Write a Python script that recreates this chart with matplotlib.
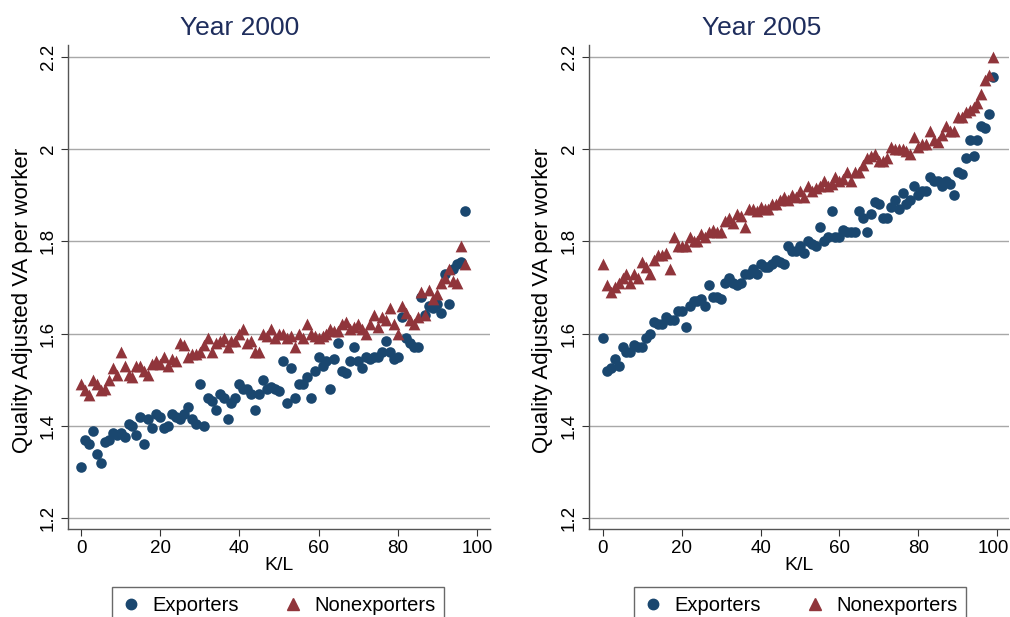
import matplotlib.pyplot as plt
from matplotlib.lines import Line2D
from matplotlib.transforms import ScaledTranslation

# K/L percentile positions
kl_2000 = list(range(98))
kl_2005 = list(range(100))

exp_2000 = [1.31, 1.37, 1.36, 1.39, 1.34, 1.32, 1.365, 1.37, 1.385, 1.38,
            1.385, 1.375, 1.405, 1.40, 1.38, 1.42, 1.36, 1.415, 1.395, 1.425,
            1.42, 1.395, 1.40, 1.425, 1.42, 1.415, 1.425, 1.44, 1.415, 1.405,
            1.49, 1.40, 1.46, 1.455, 1.435, 1.47, 1.46, 1.415, 1.45, 1.46,
            1.49, 1.48, 1.48, 1.47, 1.435, 1.47, 1.50, 1.48, 1.485, 1.48,
            1.475, 1.54, 1.45, 1.525, 1.46, 1.49, 1.49, 1.505, 1.46, 1.52,
            1.55, 1.53, 1.54, 1.48, 1.545, 1.58, 1.52, 1.515, 1.54, 1.57,
            1.54, 1.525, 1.55, 1.545, 1.55, 1.55, 1.56, 1.585, 1.56, 1.545,
            1.55, 1.635, 1.59, 1.58, 1.57, 1.57, 1.68, 1.64, 1.66, 1.655,
            1.665, 1.645, 1.73, 1.665, 1.74, 1.75, 1.755, 1.866]

nonexp_2000 = [1.49, 1.478, 1.467, 1.50, 1.49, 1.478, 1.48, 1.50, 1.525, 1.51,
               1.56, 1.53, 1.51, 1.505, 1.53, 1.53, 1.52, 1.51, 1.535, 1.54,
               1.535, 1.55, 1.53, 1.545, 1.54, 1.58, 1.575, 1.55, 1.555, 1.555,
               1.56, 1.575, 1.59, 1.56, 1.58, 1.585, 1.59, 1.57, 1.585, 1.585,
               1.60, 1.61, 1.58, 1.585, 1.56, 1.56, 1.60, 1.595, 1.61, 1.59,
               1.60, 1.60, 1.59, 1.595, 1.57, 1.60, 1.59, 1.62, 1.60, 1.595,
               1.59, 1.595, 1.60, 1.61, 1.605, 1.605, 1.62, 1.625, 1.61, 1.615,
               1.62, 1.61, 1.60, 1.62, 1.64, 1.615, 1.635, 1.63, 1.655, 1.62,
               1.60, 1.66, 1.645, 1.63, 1.62, 1.635, 1.69, 1.64, 1.695, 1.675,
               1.685, 1.71, 1.72, 1.74, 1.715, 1.71, 1.79, 1.75]

exp_2005 = [1.59, 1.52, 1.525, 1.545, 1.53, 1.57, 1.56, 1.56, 1.575, 1.57,
            1.57, 1.59, 1.60, 1.625, 1.62, 1.62, 1.635, 1.63, 1.63, 1.65,
            1.65, 1.615, 1.66, 1.67, 1.67, 1.675, 1.66, 1.705, 1.68, 1.68,
            1.675, 1.71, 1.72, 1.71, 1.705, 1.71, 1.73, 1.73, 1.74, 1.73,
            1.75, 1.745, 1.745, 1.75, 1.76, 1.755, 1.75, 1.79, 1.78, 1.78,
            1.79, 1.775, 1.80, 1.795, 1.79, 1.83, 1.80, 1.81, 1.865, 1.81,
            1.81, 1.825, 1.82, 1.82, 1.82, 1.865, 1.85, 1.82, 1.86, 1.885,
            1.88, 1.85, 1.85, 1.875, 1.89, 1.87, 1.905, 1.88, 1.89, 1.92,
            1.90, 1.91, 1.91, 1.94, 1.93, 1.93, 1.92, 1.93, 1.925, 1.90,
            1.95, 1.945, 1.98, 2.02, 1.985, 2.02, 2.05, 2.045, 2.075, 2.155]

nonexp_2005 = [1.75, 1.705, 1.69, 1.70, 1.71, 1.72, 1.73, 1.71, 1.73, 1.72,
               1.755, 1.745, 1.73, 1.76, 1.77, 1.77, 1.775, 1.74, 1.81, 1.79,
               1.79, 1.79, 1.81, 1.80, 1.80, 1.815, 1.81, 1.82, 1.825, 1.82,
               1.82, 1.845, 1.85, 1.84, 1.86, 1.855, 1.83, 1.87, 1.87, 1.865,
               1.875, 1.87, 1.87, 1.88, 1.88, 1.89, 1.895, 1.89, 1.90, 1.895,
               1.91, 1.895, 1.92, 1.91, 1.915, 1.92, 1.93, 1.92, 1.925, 1.94,
               1.93, 1.935, 1.95, 1.93, 1.95, 1.95, 1.965, 1.98, 1.985, 1.99,
               1.975, 1.975, 1.98, 2.005, 2.00, 2.00, 2.00, 1.995, 1.99, 2.025,
               2.005, 2.01, 2.01, 2.04, 2.02, 2.015, 2.03, 2.05, 2.04, 2.04,
               2.07, 2.07, 2.08, 2.085, 2.09, 2.10, 2.12, 2.15, 2.16, 2.20]

y_ticks = [1.2, 1.4, 1.6, 1.8, 2.0, 2.2]
y_ticklabels = ['1.2', '1.4', '1.6', '1.8', '2', '2.2']
x_ticks = [0, 20, 40, 60, 80, 100]

navy = '#1a476f'
maroon = '#90353b'
title_col = '#1e2d5c'

plt.rcParams['font.family'] = ['Liberation Sans', 'DejaVu Sans']

fig = plt.figure(figsize=(10.1, 6.17), dpi=100)
ax1 = fig.add_axes([0.0673, 0.1426, 0.4178, 0.7845])
ax2 = fig.add_axes([0.5832, 0.1426, 0.4158, 0.7845])

panels = [(ax1, 'Year 2000', kl_2000, exp_2000, nonexp_2000, (-3.3, 103.3), 240, 278, -0.083),
          (ax2, 'Year 2005', kl_2005, exp_2005, nonexp_2005, (-3.5, 103.0), 762, 800, -0.086)]

for ax, title, kl, ex, nx, xl, title_x, leg_x, ylab_x in panels:
    ax.scatter(kl, ex, s=58, marker='o', color=navy, linewidths=0, zorder=3)
    ax.scatter(kl, nx, s=72, marker='^', color=maroon, linewidths=0, zorder=3)
    ax.set_xlim(*xl)
    ax.set_ylim(1.1766, 2.2254)
    ax.set_yticks(y_ticks)
    ax.set_yticklabels(y_ticklabels, rotation=90, va='center')
    ax.set_xticks(x_ticks)
    ax.tick_params(axis='both', labelsize=13.5, length=5, width=0.8,
                   color='#333333', labelcolor='black')
    ax.tick_params(axis='y', pad=3)
    ax.tick_params(axis='x', pad=3)
    ax.grid(axis='y', color='#a8a8a8', linewidth=1.0, zorder=0)
    ax.set_axisbelow(True)
    for side in ['top', 'right']:
        ax.spines[side].set_visible(False)
    for side in ['left', 'bottom']:
        ax.spines[side].set_color('#555555')
        ax.spines[side].set_linewidth(1.0)
    ax.set_xlabel('K/L', fontsize=14, labelpad=0)
    ax.set_ylabel('Quality Adjusted VA per worker', fontsize=16)
    ax.yaxis.set_label_coords(ylab_x, 0.473)
    fig.text(title_x / 1010, 1 - 28 / 617, title, fontsize=19, color=title_col,
             ha='center', va='center')

    handles = [Line2D([], [], linestyle='none', marker='o', color=navy, markersize=7.5),
               Line2D([], [], linestyle='none', marker='^', color=maroon, markersize=8.5)]
    leg = fig.legend(handles, ['Exporters', 'Nonexporters'], ncol=2,
                     loc='upper center',
                     bbox_to_anchor=(leg_x / 1010, 1 - 587 / 617),
                     fontsize=14.5, frameon=True, fancybox=False,
                     edgecolor='#444444', handletextpad=0.55,
                     columnspacing=2.2, borderpad=0.45, handlelength=1.0,
                     borderaxespad=0)
    leg.get_frame().set_linewidth(1.0)

# nudge the last tick label on the right panel so it stays inside the canvas
last = ax2.get_xticklabels()[-1]
last.set_transform(last.get_transform() + ScaledTranslation(-4 / 100, 0, fig.dpi_scale_trans))

fig.savefig('out.png', dpi=100)
